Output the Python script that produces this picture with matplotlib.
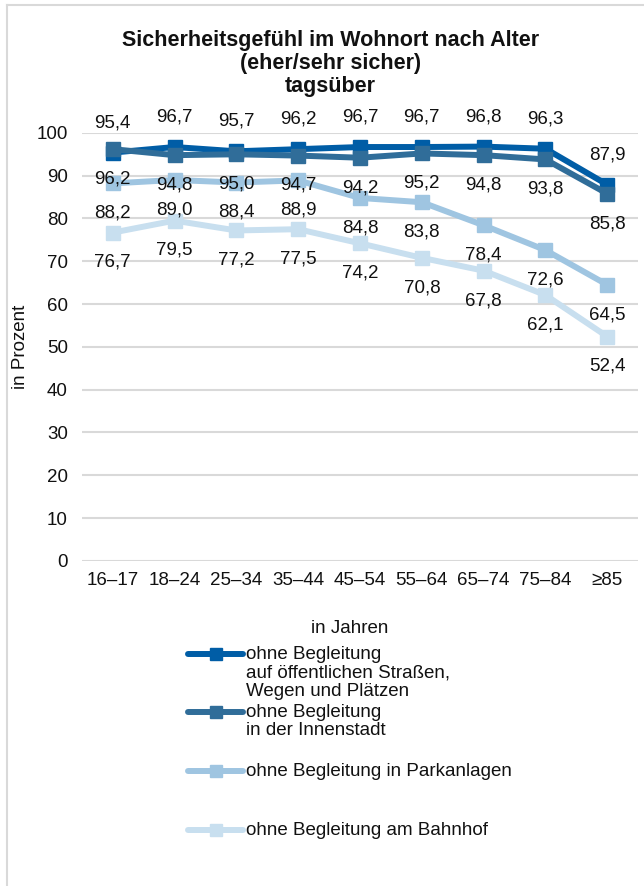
import matplotlib.pyplot as plt
from matplotlib.lines import Line2D

plt.rcParams["font.family"] = ["Liberation Sans", "DejaVu Sans"]

age_groups = ["16–17", "18–24", "25–34", "35–44", "45–54", "55–64", "65–74", "75–84", "≥85"]

strassen = [95.4, 96.7, 95.7, 96.2, 96.7, 96.7, 96.8, 96.3, 87.9]
innenstadt = [96.2, 94.8, 95.0, 94.7, 94.2, 95.2, 94.8, 93.8, 85.8]
parkanlagen = [88.2, 89.0, 88.4, 88.9, 84.8, 83.8, 78.4, 72.6, 64.5]
bahnhof = [76.7, 79.5, 77.2, 77.5, 74.2, 70.8, 67.8, 62.1, 52.4]

series_labels = [
    "ohne Begleitung\nauf öffentlichen Straßen,\nWegen und Plätzen",
    "ohne Begleitung\nin der Innenstadt",
    "ohne Begleitung in Parkanlagen",
    "ohne Begleitung am Bahnhof",
]
colors = ["#005DA6", "#306D99", "#9FC5E1", "#C8DFEF"]
label_side = [1, -1, -1, -1]

FS = 13.5

fig = plt.figure(figsize=(6.44, 8.86), dpi=100)
ax = fig.add_axes([0.127, 0.367, 0.864, 0.483])

x = range(len(age_groups))
all_series = [strassen, innenstadt, parkanlagen, bahnhof]

for values, color, side in zip(all_series, colors, label_side):
    ax.plot(x, values, color=color, lw=4.3, marker="s", ms=10,
            clip_on=False, zorder=3)
    for xi, v in zip(x, values):
        ax.annotate(f"{v:.1f}".replace(".", ","), (xi, v),
                    xytext=(0, 21.5 * side), textcoords="offset points",
                    ha="center", va="center", fontsize=FS, color="#111111",
                    zorder=4)

ax.set_xlim(-0.5, len(age_groups) - 0.5)
ax.set_ylim(0, 100)
ax.set_yticks(range(0, 101, 10))
ax.set_xticks(list(x))
ax.set_xticklabels(age_groups)
ax.tick_params(length=0, labelsize=FS, colors="#111111")
ax.tick_params(axis="x", pad=8)
ax.tick_params(axis="y", pad=10)
ax.grid(axis="y", color="#D9D9D9", lw=1.5)
ax.set_axisbelow(True)
for s in ax.spines.values():
    s.set_visible(False)

ax.set_ylabel("in Prozent", fontsize=FS, color="#111111")
ax.yaxis.set_label_coords(-0.094, 0.5)
ax.set_xlabel("in Jahren", fontsize=FS, color="#111111")
ax.xaxis.set_label_coords(0.482, -0.138)

fig.text(0.513, 0.966, "Sicherheitsgefühl im Wohnort nach Alter\n(eher/sehr sicher)\ntagsüber",
         ha="center", va="top", fontsize=15.5, fontweight="bold",
         linespacing=1.12, color="#111111")

# legend drawn by hand so the handle sits on the first text line
legend_y = [654, 712, 771, 830]
for label, color, ly in zip(series_labels, colors, legend_y):
    yf = 1 - ly / 886
    fig.add_artist(Line2D([188 / 644, 243 / 644], [yf, yf], color=color,
                          lw=4.3, solid_capstyle="round"))
    fig.add_artist(Line2D([215.5 / 644], [yf], color=color, marker="s",
                          ms=9, lw=0))
    fig.text(246 / 644, yf + 8 / 886, label, ha="left", va="top",
             fontsize=FS, color="#111111", linespacing=1.1)

# light outer frame
fig.add_artist(Line2D([7 / 644, 7 / 644], [0, 1 - 5 / 886], color="#D9D9D9", lw=1.5))
fig.add_artist(Line2D([7 / 644, 1], [1 - 5 / 886, 1 - 5 / 886], color="#D9D9D9", lw=1.5))

fig.savefig("out.png", dpi=100)
